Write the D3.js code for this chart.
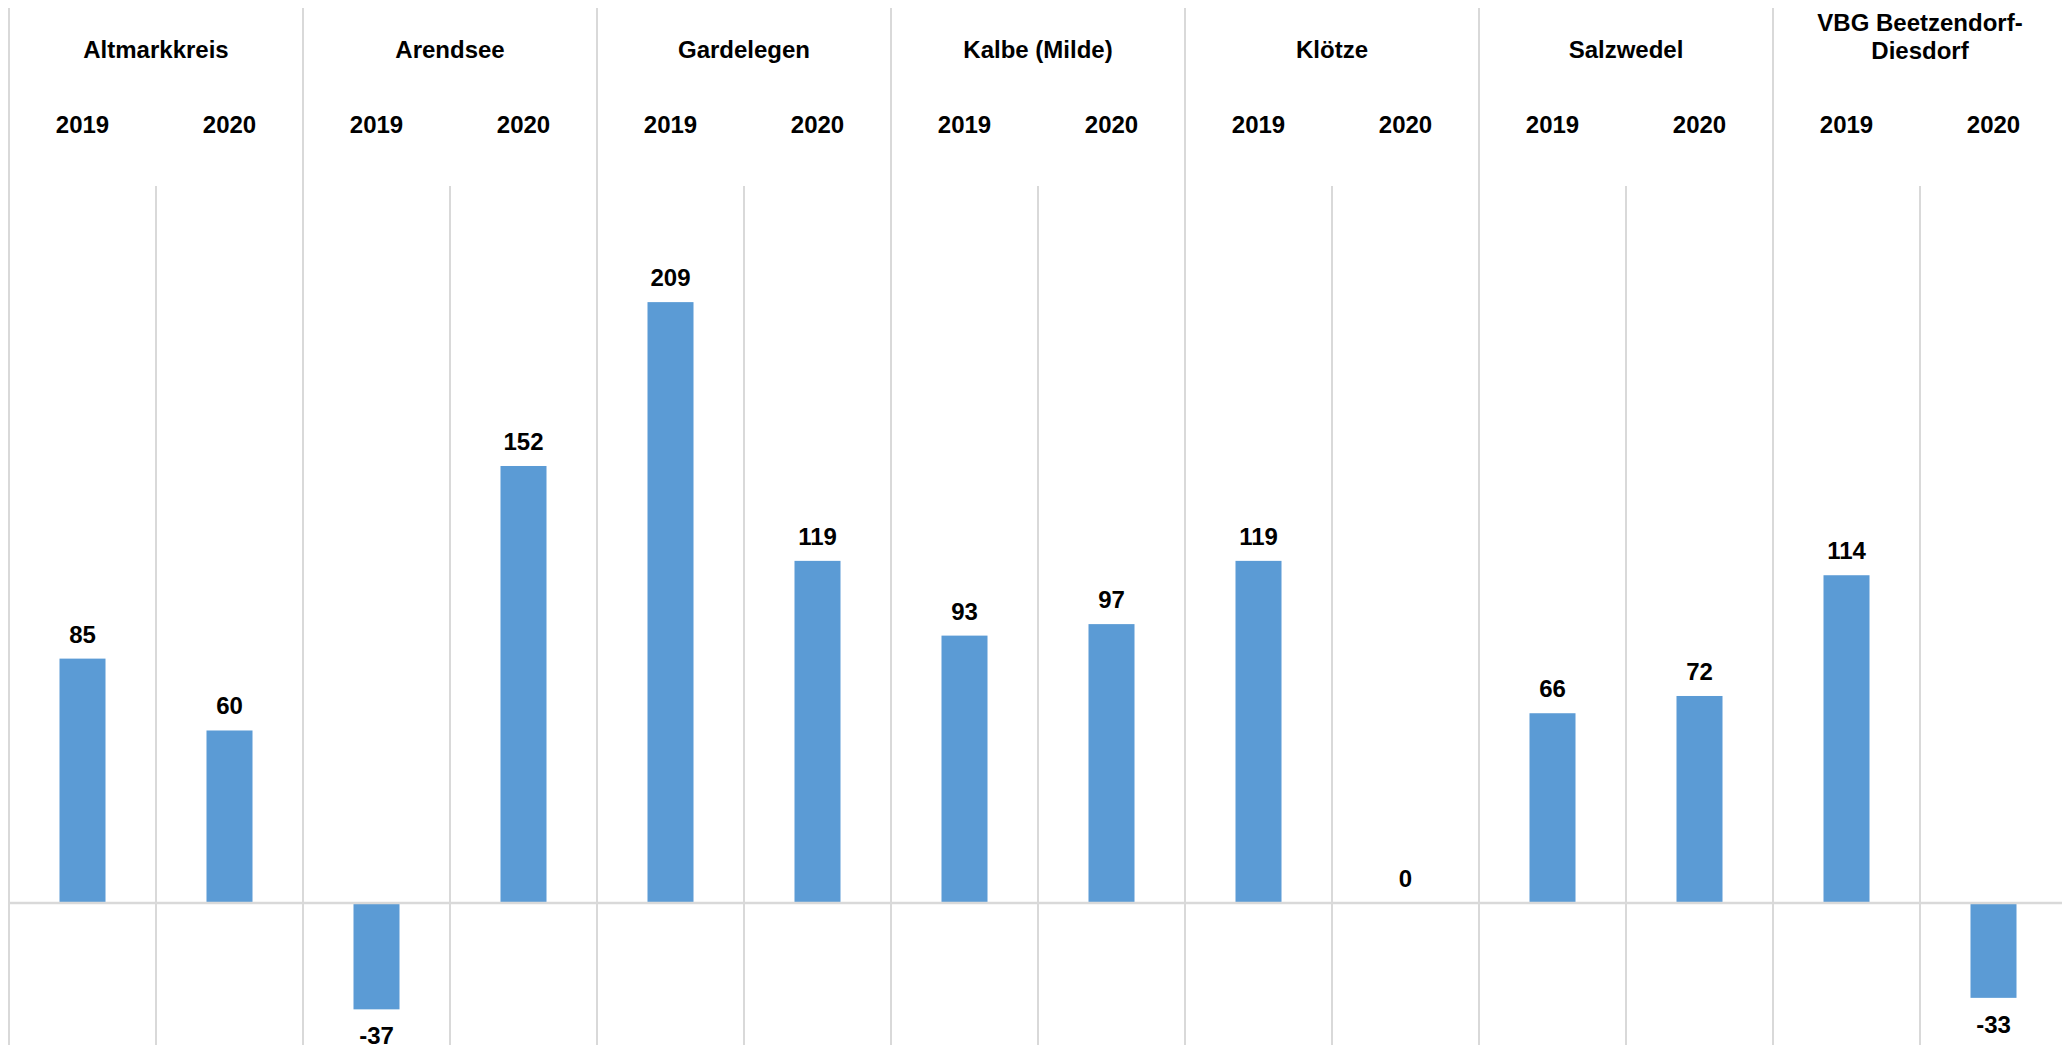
<!DOCTYPE html>
<html>
<head>
<meta charset="utf-8">
<script src="https://cdn.jsdelivr.net/npm/d3@7"></script>
<style>
  html, body { margin: 0; padding: 0; background: #fff; }
  svg { display: block; }
  text { font-family: "Liberation Sans", Arial, sans-serif; font-weight: bold; fill: #000; }
</style>
</head>
<body>
<svg id="chart" width="2062" height="1045"></svg>
<script>
// Regions (two-line label for the last one)
const categories = ["Altmarkkreis", "Arendsee", "Gardelegen", "Kalbe (Milde)", "Klötze", "Salzwedel", "VBG Beetzendorf-Diesdorf"];
const categoryLines = [["Altmarkkreis"], ["Arendsee"], ["Gardelegen"], ["Kalbe (Milde)"], ["Klötze"], ["Salzwedel"], ["VBG Beetzendorf-", "Diesdorf"]];
const years = ["2019", "2020"];
const values2019 = [85, -37, 209, 93, 119, 66, 114];
const values2020 = [60, 152, 119, 97, 0, 72, -33];

const W = 2062, H = 1045;
const svg = d3.select("#chart");

const left = 9, catStep = 294;
const x0 = d3.scaleBand().domain(categories).range([left, left + catStep * categories.length]).paddingInner(0).paddingOuter(0);
const x1 = d3.scaleBand().domain(years).range([0, x0.bandwidth()]).padding(0);
const barW = x1.bandwidth() * 0.313;

const y = d3.scaleLinear().domain([-49.4, 220]).range([H, 270.5]);

const rows = [];
categories.forEach((c, i) => {
  rows.push({ cat: c, year: "2019", v: values2019[i] });
  rows.push({ cat: c, year: "2020", v: values2020[i] });
});

const grid = svg.append("g").attr("stroke", "#d9d9d9").attr("stroke-width", 2);

// outer separators between regions
const bounds = categories.map(c => x0(c)).concat([x0.range()[1]]);
grid.selectAll("line.outer").data(bounds).join("line")
  .attr("class", "outer")
  .attr("x1", d => d).attr("x2", d => d)
  .attr("y1", 8).attr("y2", H);

// inner separators between the two years
grid.selectAll("line.inner").data(categories).join("line")
  .attr("class", "inner")
  .attr("x1", d => x0(d) + x1("2020")).attr("x2", d => x0(d) + x1("2020"))
  .attr("y1", 186).attr("y2", H);

// bars
svg.append("g").selectAll("rect").data(rows).join("rect")
  .attr("x", d => x0(d.cat) + x1(d.year) + (x1.bandwidth() - barW) / 2)
  .attr("width", barW)
  .attr("y", d => y(Math.max(0, d.v)))
  .attr("height", d => Math.abs(y(d.v) - y(0)))
  .attr("fill", "#5b9bd5");

// zero line
svg.append("line")
  .attr("x1", left).attr("x2", W)
  .attr("y1", y(0)).attr("y2", y(0))
  .attr("stroke", "#d9d9d9").attr("stroke-width", 2.5);

// value labels
svg.append("g").selectAll("text").data(rows).join("text")
  .attr("x", d => x0(d.cat) + x1(d.year) + x1.bandwidth() / 2)
  .attr("y", d => d.v < 0 ? y(d.v) + 35 : y(d.v) - 16)
  .attr("text-anchor", "middle")
  .attr("font-size", 24)
  .text(d => d.v);

// year labels
svg.append("g").selectAll("text").data(rows).join("text")
  .attr("x", d => x0(d.cat) + x1(d.year) + x1.bandwidth() / 2)
  .attr("y", 133)
  .attr("text-anchor", "middle")
  .attr("font-size", 24)
  .text(d => d.year);

// region labels
const catG = svg.append("g").selectAll("text").data(categories).join("text")
  .attr("x", d => x0(d) + x0.bandwidth() / 2)
  .attr("y", (d, i) => categoryLines[i].length > 1 ? 31 : 58)
  .attr("text-anchor", "middle")
  .attr("font-size", 24);
catG.selectAll("tspan").data((d, i) => categoryLines[i]).join("tspan")
  .attr("x", function () { return d3.select(this.parentNode).attr("x"); })
  .attr("dy", (d, j) => j === 0 ? 0 : 27.5)
  .text(d => d);
</script>
</body>
</html>
